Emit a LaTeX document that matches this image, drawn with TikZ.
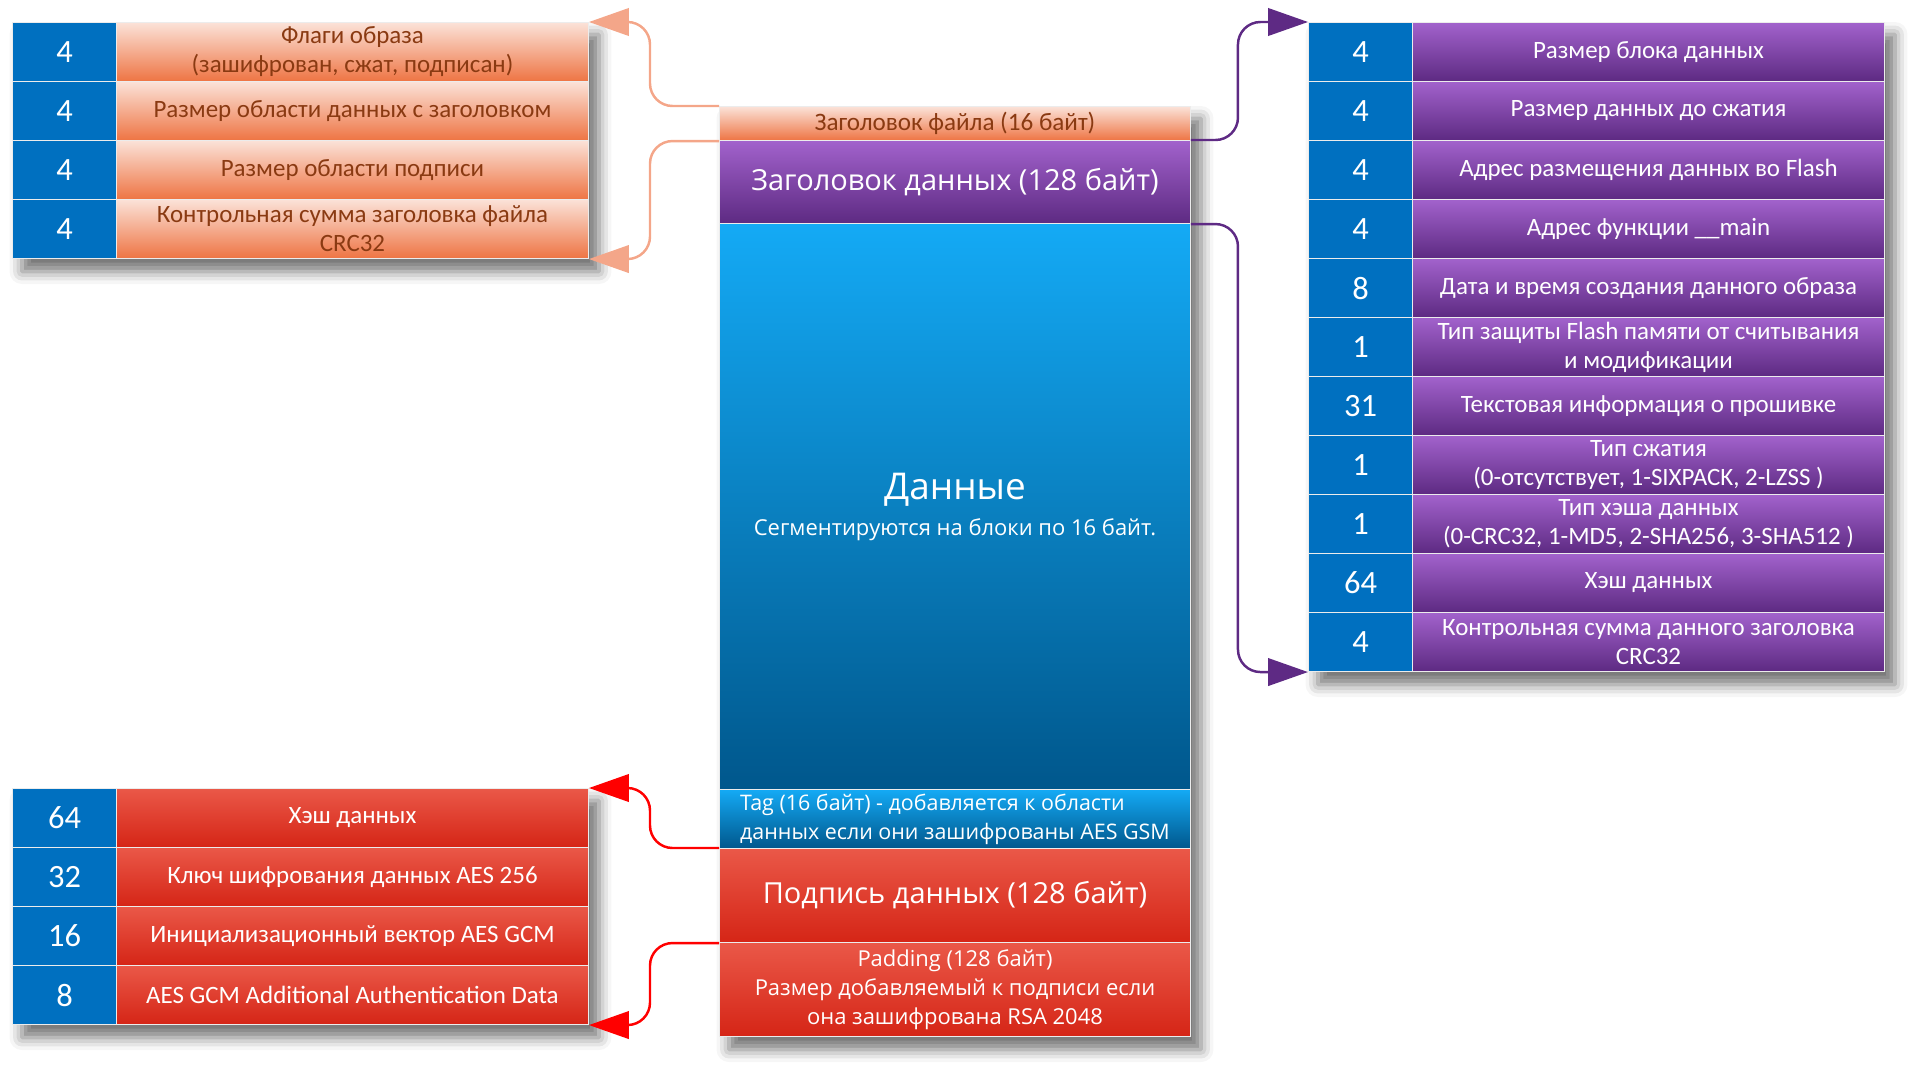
\documentclass[tikz,border=0pt]{standalone}
\usepackage{fontspec}
\setmainfont{Carlito}
\newfontfamily\segoe{Open Sans}
\usetikzlibrary{arrows.meta,shadows.blur,backgrounds}

\definecolor{numblue}{HTML}{0070C0}
\definecolor{orgtop}{HTML}{FBE2D8}
\definecolor{orgbot}{HTML}{EE7443}
\definecolor{orgtxt}{HTML}{8A3A12}
\definecolor{purtop}{HTML}{A262CC}
\definecolor{purbot}{HTML}{5D2A82}
\definecolor{redtop}{HTML}{EA5848}
\definecolor{redbot}{HTML}{D52516}
\definecolor{bluetop}{HTML}{14AAF5}
\definecolor{bluebot}{HTML}{00578C}
\definecolor{orgline}{HTML}{F4A689}
\definecolor{purline}{HTML}{5E2A84}
\definecolor{redline}{HTML}{FF0000}

\tikzset{
  cell/.style={rectangle, inner sep=0pt, draw=white!85!gray, line width=0.6pt,
    anchor=north west, minimum height=1.18cm, align=center},
  numcell/.style={cell, fill=numblue, text=white, minimum width=2.08cm,
    font=\fontsize{18.5}{20}\selectfont},
  orow/.style={cell, top color=orgtop, bottom color=orgbot, text=orgtxt,
    minimum width=9.44cm, font=\fontsize{14.2}{16.5}\selectfont},
  prow/.style={cell, top color=purtop, bottom color=purbot, text=white,
    minimum width=9.44cm, font=\fontsize{14.2}{16.5}\selectfont},
  rrow/.style={cell, top color=redtop, bottom color=redbot, text=white,
    minimum width=9.44cm, font=\fontsize{14.2}{16.5}\selectfont},
  part/.style={cell, minimum width=9.42cm, text=white},
  tshadow/.style={fill=white, blur shadow={shadow xshift=2mm, shadow yshift=-2.5mm,
    shadow blur radius=2.5mm, shadow opacity=55}},
  conn/.style={line width=1.4pt, rounded corners=0.45cm,
    -{Triangle[length=0.8cm, width=0.55cm]}},
}

\begin{document}
\begin{tikzpicture}[x=0.02cm, y=-0.02cm]
\useasboundingbox (0,0) rectangle (1913,1072);

% file header fields
\node[numcell] (fn1) at (12,22) {4};
\node[orow] (ft1) at (116,22) {Флаги образа\\(зашифрован, сжат, подписан)};
\node[numcell] (fn2) at (12,81) {4};
\node[orow] (ft2) at (116,81) {Размер области данных с заголовком};
\node[numcell] (fn3) at (12,140) {4};
\node[orow] (ft3) at (116,140) {Размер области подписи};
\node[numcell] (fn4) at (12,199) {4};
\node[orow] (ft4) at (116,199) {Контрольная сумма заголовка файла\\CRC32};

% data header fields
\node[numcell] (hn1) at (1308,22) {4};
\node[prow] (ht1) at (1412,22) {Размер блока данных};
\node[numcell] (hn2) at (1308,81) {4};
\node[prow] (ht2) at (1412,81) {Размер данных до сжатия};
\node[numcell] (hn3) at (1308,140) {4};
\node[prow] (ht3) at (1412,140) {Адрес размещения данных во Flash};
\node[numcell] (hn4) at (1308,199) {4};
\node[prow] (ht4) at (1412,199) {Адрес функции \_\_main};
\node[numcell] (hn5) at (1308,258) {8};
\node[prow] (ht5) at (1412,258) {Дата и время создания данного образа};
\node[numcell] (hn6) at (1308,317) {1};
\node[prow] (ht6) at (1412,317) {Тип защиты Flash памяти от считывания\\и модификации};
\node[numcell] (hn7) at (1308,376) {31};
\node[prow] (ht7) at (1412,376) {Текстовая информация о прошивке};
\node[numcell] (hn8) at (1308,435) {1};
\node[prow] (ht8) at (1412,435) {Тип сжатия\\(0-отсутствует, 1-SIXPACK, 2-LZSS )};
\node[numcell] (hn9) at (1308,494) {1};
\node[prow] (ht9) at (1412,494) {Тип хэша данных\\(0-CRC32, 1-MD5, 2-SHA256, 3-SHA512 )};
\node[numcell] (hn10) at (1308,553) {64};
\node[prow] (ht10) at (1412,553) {Хэш данных};
\node[numcell] (hn11) at (1308,612) {4};
\node[prow] (ht11) at (1412,612) {Контрольная сумма данного заголовка\\CRC32};

% signature fields
\node[numcell] (sn1) at (12,788) {64};
\node[rrow] (st1) at (116,788) {Хэш данных};
\node[numcell] (sn2) at (12,847) {32};
\node[rrow] (st2) at (116,847) {Ключ шифрования данных AES 256};
\node[numcell] (sn3) at (12,906) {16};
\node[rrow] (st3) at (116,906) {Инициализационный вектор AES GCM};
\node[numcell] (sn4) at (12,965) {8};
\node[rrow] (st4) at (116,965) {AES GCM Additional Authentication Data};

% image layout
\node[part, minimum height=0.68cm, top color=orgtop, bottom color=orgbot, text=orgtxt,
  font=\fontsize{14.3}{15}\selectfont] (fhdr) at (719,106) {Заголовок файла (16 байт)};
\node[part, minimum height=1.66cm, top color=purtop, bottom color=purbot,
  font=\segoe\fontsize{16.5}{20}\selectfont] (dhdr) at (719,140) {Заголовок данных (128 байт)};
\node[part, minimum height=11.32cm, top color=bluetop, bottom color=bluebot,
  font=\segoe] (data) at (719,223)
  {{\fontsize{21}{26}\selectfont Данные}\\[6pt]{\fontsize{12.5}{15}\selectfont Сегментируются на блоки по 16 байт.}};
\node[part, minimum height=1.18cm, top color=bluetop, bottom color=bluebot, align=left,
  font=\segoe\fontsize{12.2}{16.5}\selectfont] (tag) at (719,789)
  {Tag (16 байт) - добавляется к области\\данных если они зашифрованы AES GSM};
\node[part, minimum height=1.88cm, top color=redtop, bottom color=redbot,
  font=\segoe\fontsize{16.5}{20}\selectfont] (sig) at (719,848) {Подпись данных (128 байт)};
\node[part, minimum height=1.88cm, top color=redtop, bottom color=redbot,
  font=\segoe\fontsize{12.5}{16.5}\selectfont] (pad) at (719,942)
  {Padding (128 байт)\\Размер добавляемый к подписи если\\она зашифрована RSA 2048};

\begin{scope}[on background layer]
\path[tshadow] (fn1.north west) rectangle (ft4.south east);
\path[tshadow] (hn1.north west) rectangle (ht11.south east);
\path[tshadow] (sn1.north west) rectangle (st4.south east);
\path[tshadow] (fhdr.north west) rectangle (pad.south east);
\end{scope}

\draw[conn, orgline] (fhdr.north west) -- ++(-69,0) |- (ft1.north east);
\draw[conn, orgline] (fhdr.south west) -- ++(-69,0) |- (ft4.south east);
\draw[conn, purline] (dhdr.north east) -- ++(47,0) |- (hn1.north west);
\draw[conn, purline] (dhdr.south east) -- ++(47,0) |- (hn11.south west);
\draw[conn, redline] (sig.north west) -- ++(-69,0) |- (st1.north east);
\draw[conn, redline] (sig.south west) -- ++(-69,0) |- (st4.south east);
\end{tikzpicture}
\end{document}
